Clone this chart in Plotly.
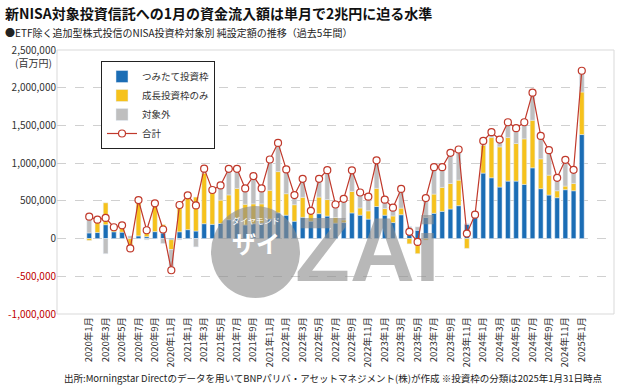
import plotly.graph_objects as go

months = [f"{y}年{m}月" for y in range(2020, 2025) for m in range(1, 13)] + ["2025年1月"]

# values read in thousands of 百万円 (scaled below)
tsumitate = [75, 80, 184, 90, 85, 5, 35, 25, 92, 75, -15, 90,
             118, 100, 197, 189, 200, 250, 265, 180, 197, 205, 260, 340,
             310, 230, 282, 230, 330, 298, 205, 212, 340, 310, 258, 425,
             310, 212, 316, 100, 110, 280, 335, 361, 392, 436, 190, 291,
             868, 806, 683, 762, 762, 718, 938, 661, 577, 542, 648, 634,
             1379]
seicho = [-25, 160, 290, 30, 50, -165, 455, 100, 355, 110, -130, 370,
          440, 450, 670, 430, 310, 329, 400, 275, 263, 255, 380, 548,
          285, 219, 265, 110, 220, 219, 75, 35, 285, 96, 110, 241,
          88, 88, 88, -70, -200, -20, 255, 317, 339, 339, -130, 0,
          370, 533, 533, 577, 498, 604, 630, 396, 264, 92, 48, 97,
          564]
taishogai = [240, 10, -200, 30, 40, 30, 20, -15, 20, -65, -275, -15,
             15, -110, 60, 25, 195, 346, 260, 210, 369, 205, 408, 380,
             322, 128, 245, 28, 242, 390, 172, 280, 280, 205, 187, 372,
             118, 110, 254, 60, 45, 277, 357, 269, 406, 406, 6, 26,
             57, 71, 97, 203, 203, 220, 366, 304, 331, 172, 348, 181,
             282]
gokei = [290, 250, 274, 150, 175, -130, 510, 110, 467, 120, -420, 445,
         573, 440, 927, 644, 705, 925, 925, 665, 829, 665, 1048, 1268,
         917, 577, 792, 368, 792, 907, 452, 527, 905, 611, 555, 1038,
         516, 410, 658, 90, -45, 537, 947, 947, 1137, 1181, 66, 317,
         1295, 1410, 1313, 1542, 1463, 1542, 1934, 1361, 1172, 806, 1044, 912,
         2225]

scale = 1000
tsumitate = [v * scale for v in tsumitate]
seicho = [v * scale for v in seicho]
taishogai = [v * scale for v in taishogai]
gokei = [v * scale for v in gokei]

ytick_vals = [-1000000, -500000, 0, 500000, 1000000, 1500000, 2000000, 2500000]
ytick_text = ['<span style="color:#c00000">-1,000,000</span>',
              '<span style="color:#c00000">-500,000</span>',
              "0", "500,000", "1,000,000", "1,500,000", "2,000,000", "2,500,000"]

FONT = "Noto Sans CJK JP"
BLUE = "#1b6db5"
YELLOW = "#f6c21c"
GRAY = "#bfbfbf"
RED = "#c0392b"

fig = go.Figure()
fig.add_bar(x=months, y=tsumitate, name="つみたて投資枠", marker_color=BLUE)
fig.add_bar(x=months, y=seicho, name="成長投資枠のみ", marker_color=YELLOW)
fig.add_bar(x=months, y=taishogai, name="対象外", marker_color=GRAY)
fig.add_scatter(x=months, y=gokei, name="合計", mode="lines+markers",
                line=dict(color=RED, width=1.2),
                marker=dict(size=7, color="white", line=dict(color=RED, width=1.2)))

L, R, T, B = 57, 6, 50, 73
W, H = 620, 387
pw, ph = W - L - R, H - T - B

def px(x):
    return (x - L) / pw

def py(y):
    return (H - B - y) / ph

fig.update_layout(
    width=W, height=H,
    margin=dict(l=L, r=R, t=T, b=B, autoexpand=False),
    paper_bgcolor="white", plot_bgcolor="white",
    barmode="relative", bargap=0.42,
    font=dict(family=FONT, size=10, color="#333333"),
    showlegend=True,
    legend=dict(x=px(101), y=py(61), xanchor="left", yanchor="top",
                bgcolor="white", bordercolor="#222222", borderwidth=1,
                font=dict(size=9.5, color="#333333"), traceorder="normal",
                tracegroupgap=0, itemwidth=30),
    xaxis=dict(type="category", tickmode="array", tickvals=months[::2],
               ticktext=months[::2], tickangle=-90, tickfont=dict(size=9.5),
               showgrid=False, showline=False, ticks="", automargin=False),
    yaxis=dict(range=[-1000000, 2500000], tickmode="array", tickvals=ytick_vals,
               ticktext=ytick_text, showgrid=True, gridcolor="#d0d0d0",
               griddash="dash", gridwidth=1, zeroline=False, showline=False,
               tickfont=dict(size=10), automargin=False),
)

# plot-area border
fig.add_shape(type="rect", xref="paper", yref="paper", x0=0, x1=1, y0=0, y1=1,
              line=dict(color="#d9d9d9", width=1), layer="below")

# watermark
WM = "rgba(140,140,140,0.62)"
fig.add_shape(type="circle", xref="paper", yref="paper",
              x0=px(211), x1=px(300), y0=py(298), y1=py(206),
              fillcolor=WM, line=dict(width=0), layer="above")
fig.add_annotation(xref="paper", yref="paper", x=px(256), y=py(228), text="ダイヤモンド",
                   showarrow=False, font=dict(size=8, color="white", family=FONT))
fig.add_annotation(xref="paper", yref="paper", x=px(256), y=py(262), text="<b>ザイ</b>",
                   showarrow=False, font=dict(size=24, color="white", family=FONT))
fig.add_annotation(xref="paper", yref="paper", x=px(293), y=py(302), xanchor="left",
                   yanchor="bottom", text="<b>ZAi</b>", showarrow=False,
                   font=dict(size=90, color=WM, family="Liberation Sans"))

# texts
fig.add_annotation(xref="paper", yref="paper", x=px(3), y=py(13), xanchor="left",
                   yanchor="middle", showarrow=False,
                   text="<b>新NISA対象投資信託への1月の資金流入額は単月で2兆円に迫る水準</b>",
                   font=dict(size=14, color="#111111", family=FONT))
fig.add_annotation(xref="paper", yref="paper", x=px(3), y=py(33), xanchor="left",
                   yanchor="middle", showarrow=False,
                   text="●ETF除く追加型株式投信のNISA投資枠対象別 純設定額の推移（過去5年間）",
                   font=dict(size=10, color="#222222", family=FONT))
fig.add_annotation(xref="paper", yref="paper", x=px(33), y=py(63), xanchor="center",
                   yanchor="middle", showarrow=False, text="(百万円)",
                   font=dict(size=10, color="#333333", family=FONT))
fig.add_annotation(xref="paper", yref="paper", x=px(62), y=py(378), xanchor="left",
                   yanchor="middle", showarrow=False,
                   text="出所:Morningstar Directのデータを用いてBNPパリバ・アセットマネジメント(株)が作成 ※投資枠の分類は2025年1月31日時点",
                   font=dict(size=9.5, color="#222222", family=FONT))

fig.write_html("out.html", config={"displayModeBar": False},
               post_script="document.body.style.margin='0px';document.body.style.padding='0px';")
